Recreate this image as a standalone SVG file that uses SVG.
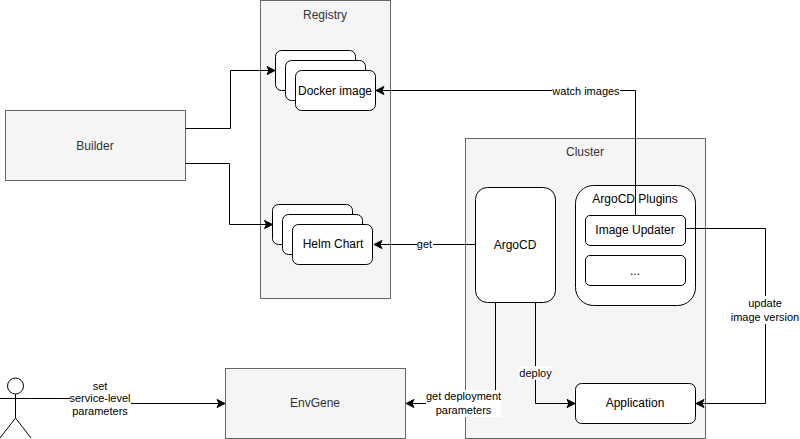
<svg xmlns="http://www.w3.org/2000/svg" width="800" height="439" viewBox="0 0 800 439">
<style>
text{font-family:"Liberation Sans",Arial,sans-serif;font-size:12px;text-anchor:middle}
.g{fill:#f5f5f5;stroke:#666}
.w{fill:#fff;stroke:#000}
.gt{fill:#333}
.bt{fill:#000}
.c{fill:none;stroke:#000;marker-end:url(#a)}
.l{fill:#fff}
.lt{font-size:11px;fill:#000}
</style>
<defs><marker id="a" markerUnits="userSpaceOnUse" markerWidth="12" markerHeight="10" refX="9" refY="5" orient="auto"><path d="M1 1L9 5L1 9L3 5Z" fill="#000" stroke="#000"/></marker></defs>
<rect width="800" height="439" fill="#fff"/>
<g id="registry"><rect class="g" x="260.5" y="0.5" width="130" height="298"/><text class="gt" x="325" y="19">Registry</text></g>
<g id="cluster"><rect class="g" x="465.5" y="138.5" width="240" height="300"/><text class="gt" x="585" y="156">Cluster</text></g>
<g id="builder"><rect class="g" x="5.5" y="110.5" width="180" height="70"/><text class="gt" x="95" y="150">Builder</text></g>
<g id="envgene"><rect class="g" x="225.5" y="368.5" width="180" height="70"/><text class="gt" x="315" y="407">EnvGene</text></g>
<g id="docker-image"><rect class="w" x="275.5" y="50.5" width="80" height="40" rx="6"/><rect class="w" x="285.5" y="60.5" width="80" height="40" rx="6"/><rect class="w" x="295.5" y="70.5" width="80" height="40" rx="6"/><text class="bt" x="335" y="95">Docker image</text></g>
<g id="helm-chart"><rect class="w" x="272.5" y="204.5" width="80" height="40" rx="6"/><rect class="w" x="282.5" y="214.5" width="80" height="40" rx="6"/><rect class="w" x="292.5" y="224.5" width="80" height="40" rx="6"/><text class="bt" x="333" y="248">Helm Chart</text></g>
<g id="argocd"><rect class="w" x="475.5" y="187.5" width="80" height="115" rx="12"/><text class="bt" x="515" y="249">ArgoCD</text></g>
<g id="plugins"><rect class="w" x="575.5" y="185.5" width="120" height="120" rx="18"/><text class="bt" x="635" y="203">ArgoCD Plugins</text></g>
<g id="connectors">
<path class="c" d="M185.500 128.500H230.500V70.500H275"/>
<path class="c" d="M185.500 163.500H229.500V224.500H272.500"/>
<path class="c" d="M635.500 215V90.500H376"/>
<path class="c" d="M475 244.500H374"/>
<path class="c" d="M685.500 228.500H765.500V403.500H696"/>
<path class="c" d="M535.500 302V403.500H575"/>
<path class="c" d="M495.500 302V403.500H406"/>
<path class="c" d="M30.500 398.500H100V403.500H225"/>
<rect class="l" x="552" y="85" width="68" height="12"/><text class="lt" x="586" y="95">watch images</text>
<rect class="l" x="417" y="238" width="16" height="13"/><text class="lt" x="424.500" y="248">get</text>
<rect class="l" x="731" y="296" width="69" height="28"/><text class="lt" x="765" y="307">update</text><text class="lt" x="765" y="321">image version</text>
<rect class="l" x="519" y="366" width="33" height="14"/><text class="lt" x="535.500" y="377">deploy</text>
<rect class="l" x="426" y="390" width="75" height="27"/><text class="lt" x="463.500" y="400">get deployment</text><text class="lt" x="463.500" y="414">parameters</text>
<rect class="l" x="70" y="378" width="61" height="41"/><text class="lt" x="100" y="390">set</text><text class="lt" x="100" y="402">service-level</text><text class="lt" x="100" y="415">parameters</text>
</g>
<g id="image-updater"><rect class="w" x="585.500" y="215.500" width="100" height="30" rx="4.500"/><text class="bt" x="635" y="234">Image Updater</text></g>
<g id="ellipsis"><rect class="w" x="585.500" y="255.500" width="100" height="30" rx="4.500"/><text class="bt" x="635" y="275">...</text></g>
<g id="application"><rect class="w" x="575.500" y="383.500" width="120" height="40" rx="6"/><text class="bt" x="635" y="407">Application</text></g>
<g id="actor" fill="none" stroke="#000"><circle cx="15.500" cy="386" r="8"/><path d="M15.500 394V418M0 398.500H30.500M15.500 418L0 438M15.500 418L31 438"/></g>
</svg>
